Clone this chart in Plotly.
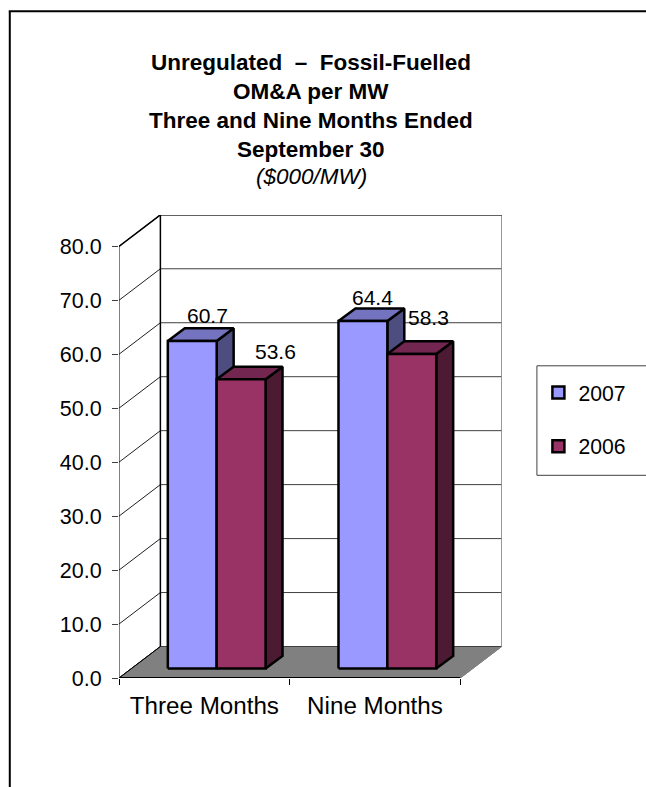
import plotly.graph_objects as go

categories = ["Three Months", "Nine Months"]
years = ["2007", "2006"]
values_2007 = [60.7, 64.4]
values_2006 = [53.6, 58.3]
y_ticks = [0, 10, 20, 30, 40, 50, 60, 70, 80]
title_lines = ["Unregulated  \u2013  Fossil-Fuelled", "OM&A per MW",
               "Three and Nine Months Ended", "September 30"]
subtitle = "($000/MW)"

front_colors = ["#9999FF", "#993366"]
top_colors = ["#7373BF", "#732650"]
side_colors = ["#4D4D80", "#4D1A33"]
FONT = "Liberation Sans"

# plot area in pixels, x axis is in category units, y axis in value units
WIDTH, HEIGHT = 646, 787
LEFT, RIGHT, TOP, BOTTOM = 118.5, 502.5, 214.7, 677.7
PX_X = 171.1
PX_Y = 5.396
WALL_X, WALL_Y = 41.5 / PX_X, 31.5 / PX_Y
NEAR_X, NEAR_Y = 12.4 / PX_X, 9.4 / PX_Y
DEPTH_X, DEPTH_Y = 17 / PX_X, 12.7 / PX_Y
BAR_W = 49 / PX_X
GAP = 1 - 2 * BAR_W


def paper_x(px):
    return (px - LEFT) / (RIGHT - LEFT)


def paper_y(px):
    return (BOTTOM - px) / (BOTTOM - TOP)


def poly(fig, xs, ys, fill, line="black", width=2.5):
    fig.add_trace(go.Scatter(x=xs, y=ys, mode="lines", fill="toself", fillcolor=fill,
                             line=dict(color=line, width=width), showlegend=False,
                             hoverinfo="skip"))


def lines(fig, xs, ys, color, width):
    fig.add_trace(go.Scatter(x=xs, y=ys, mode="lines", line=dict(color=color, width=width),
                             showlegend=False, hoverinfo="skip"))


fig = go.Figure()

# floor
poly(fig, [0, 2, 2 + WALL_X, WALL_X, 0], [0, 0, WALL_Y, WALL_Y, 0], "#808080", "#808080", 1)

# grid on back and side walls
back_x, back_y, side_x, side_y = [], [], [], []
for v in y_ticks:
    back_x += [WALL_X, 2 + WALL_X, None]
    back_y += [v + WALL_Y, v + WALL_Y, None]
    side_x += [0, WALL_X, None]
    side_y += [v, v + WALL_Y, None]
lines(fig, back_x, back_y, "#404040", 1)
lines(fig, side_x, side_y, "#202020", 1)
lines(fig, [2 + WALL_X, 2 + WALL_X], [WALL_Y, y_ticks[-1] + WALL_Y], "#808080", 1)
lines(fig, [WALL_X, 2 + WALL_X], [y_ticks[-1] + WALL_Y] * 2, "black", 1.5)
lines(fig, [WALL_X, WALL_X], [WALL_Y, y_ticks[-1] + WALL_Y], "black", 1.5)
lines(fig, [0, 0], [0, y_ticks[-1]], "black", 1)
lines(fig, [0, WALL_X], [y_ticks[-1], y_ticks[-1] + WALL_Y], "black", 1.5)
lines(fig, [0, 2], [0, 0], "black", 2)
lines(fig, [0, WALL_X], [0, WALL_Y], "black", 1)
lines(fig, [2, 2 + WALL_X], [0, WALL_Y], "#808080", 1)

# bars, drawn back to front so 2006 sits over the side of 2007
for i in range(len(categories)):
    for j, vals in enumerate([values_2007, values_2006]):
        x0 = i + GAP / 2 + j * BAR_W + NEAR_X
        x1 = x0 + BAR_W
        y0 = NEAR_Y
        y1 = NEAR_Y + vals[i]
        poly(fig, [x1, x1 + DEPTH_X, x1 + DEPTH_X, x1, x1],
             [y0, y0 + DEPTH_Y, y1 + DEPTH_Y, y1, y0], side_colors[j])
        poly(fig, [x0, x0 + DEPTH_X, x1 + DEPTH_X, x1, x0],
             [y1, y1 + DEPTH_Y, y1 + DEPTH_Y, y1, y1], top_colors[j])
        poly(fig, [x0, x1, x1, x0, x0], [y0, y0, y1, y1, y0], front_colors[j])

# value labels, excel moved these around a bit
nudges = {(0, 0): (15, 26), (0, 1): (34, 28), (1, 0): (10, 24), (1, 1): (17, 37)}
annotations = []
for i in range(len(categories)):
    for j, vals in enumerate([values_2007, values_2006]):
        dx, dy = nudges[(i, j)]
        annotations.append(dict(x=i + GAP / 2 + (j + 0.5) * BAR_W + NEAR_X, y=NEAR_Y + vals[i],
                                xref="x", yref="y", text=f"{vals[i]:.1f}", showarrow=False,
                                xshift=dx, yshift=dy, font=dict(size=21, color="black")))

# title
for k, line in enumerate(title_lines):
    annotations.append(dict(x=paper_x(311.5), y=paper_y(62.5 + k * 29), xref="paper", yref="paper",
                            xanchor="center", yanchor="middle",
                            text=f"<b>{line}</b>", showarrow=False, font=dict(size=22.5, color="black")))
annotations.append(dict(x=paper_x(311.5), y=paper_y(176.5), xref="paper", yref="paper",
                        xanchor="center", yanchor="middle",
                        text=f"<i>{subtitle}</i>", showarrow=False, font=dict(size=22.5, color="black")))

# legend entries
for j, name in enumerate(years):
    fig.add_trace(go.Scatter(x=[None], y=[None], mode="markers", name=name, legendgroup=name,
                             marker=dict(symbol="square", size=12, color=front_colors[j],
                                         line=dict(color="black", width=2.5))))

shapes = [
    dict(type="line", xref="paper", yref="paper", x0=paper_x(9), x1=paper_x(9),
         y0=paper_y(11), y1=paper_y(790), line=dict(color="black", width=2)),
    dict(type="line", xref="paper", yref="paper", x0=paper_x(8), x1=paper_x(650),
         y0=paper_y(11), y1=paper_y(11), line=dict(color="black", width=2)),
    dict(type="rect", xref="paper", yref="paper", x0=paper_x(537.5), x1=paper_x(660),
         y0=paper_y(365.5), y1=paper_y(475), line=dict(color="#404040", width=1)),
]

fig.update_layout(
    width=WIDTH, height=HEIGHT,
    margin=dict(l=LEFT, r=WIDTH - RIGHT, t=TOP, b=HEIGHT - BOTTOM, pad=0, autoexpand=False),
    paper_bgcolor="white", plot_bgcolor="rgba(0,0,0,0)",
    font=dict(family=FONT, color="black", size=21.5),
    annotations=annotations, shapes=shapes,
    legend=dict(x=paper_x(539), y=paper_y(372), xanchor="left", yanchor="top",
                bgcolor="rgba(0,0,0,0)", borderwidth=0, tracegroupgap=23,
                font=dict(size=21.2), itemsizing="trace"),
)
fig.update_xaxes(range=[0, (RIGHT - LEFT) / PX_X], tickvals=[0.5, 1.5], ticktext=categories,
                 ticks="", showgrid=False, zeroline=False, showline=False,
                 tickfont=dict(size=24.2), ticklabelstandoff=11,
                 minor=dict(tickvals=[0, 1, 2], ticks="outside", ticklen=6, tickcolor="black", showgrid=False))
fig.update_yaxes(range=[0, (BOTTOM - TOP) / PX_Y], tickvals=y_ticks,
                 ticktext=[f"{v:.1f}" for v in y_ticks], ticks="outside", ticklen=6, tickcolor="#404040",
                 showgrid=False, zeroline=False, showline=False, ticklabelstandoff=6)

fig.write_html("out.html", config=dict(displayModeBar=False),
               post_script="document.body.style.margin='0';document.body.style.overflow='hidden';")
